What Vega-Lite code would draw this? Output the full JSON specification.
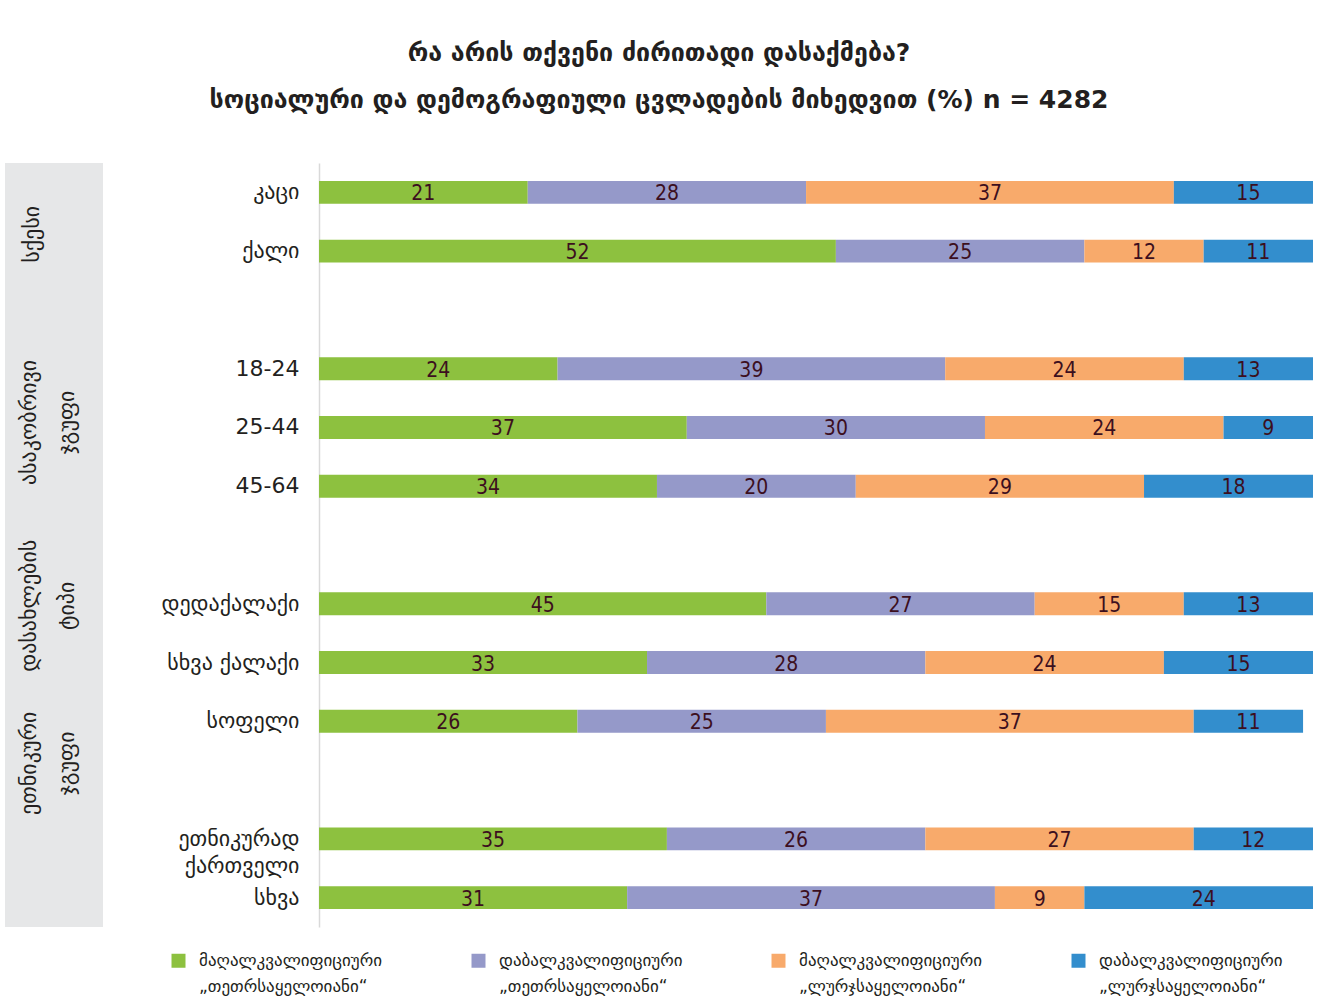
{
  "$schema": "https://vega.github.io/schema/vega-lite/v6.json",
  "padding": {"left": 5, "top": 41, "right": 5, "bottom": 5},
  "background": "white",
  "config": {"view": {"stroke": null}},
  "title": {
    "text": ["რა არის თქვენი ძირითადი დასაქმება?", "სოციალური და დემოგრაფიული ცვლადების მიხედვით (%) n = 4282"],
    "font": "DejaVu Sans",
    "fontSize": 25,
    "fontWeight": "bold",
    "color": "#231f20",
    "lineHeight": 47,
    "anchor": "middle",
    "offset": 50
  },
  "spacing": 16,
  "hconcat": [
    {
      "width": 98,
      "height": 764,
      "view": {"fill": "#e6e7e8", "stroke": null},
      "layer": [
        {
          "data": {"values": [{"group": "სქესი", "anchor": "კაცი"}]},
          "mark": {"type": "text", "angle": 270, "dx": -42, "dy": -22, "font": "DejaVu Sans", "fontSize": 22, "color": "#231f20", "align": "center", "baseline": "middle"},
          "encoding": {
            "y": {"field": "anchor", "type": "nominal", "scale": {"domain": ["კაცი", "ქალი", "g1", "18-24", "25-44", "45-64", "g2", "დედაქალაქი", "სხვა ქალაქი", "სოფელი", "g3", "ეთნიკურად ქართველი", "სხვა"], "paddingInner": 0.61, "paddingOuter": 0.305}, "axis": null},
            "text": {"field": "group"}
          }
        },
        {
          "data": {"values": [{"group": "ასაკობრივი ჯგუფი", "anchor": "25-44"}]},
          "mark": {"type": "text", "angle": 270, "dx": 5, "dy": -25, "lineBreak": " ", "lineHeight": 38, "font": "DejaVu Sans", "fontSize": 22, "color": "#231f20", "align": "center", "baseline": "middle"},
          "encoding": {
            "y": {"field": "anchor", "type": "nominal", "scale": {"domain": ["კაცი", "ქალი", "g1", "18-24", "25-44", "45-64", "g2", "დედაქალაქი", "სხვა ქალაქი", "სოფელი", "g3", "ეთნიკურად ქართველი", "სხვა"], "paddingInner": 0.61, "paddingOuter": 0.305}, "axis": null},
            "text": {"field": "group"}
          }
        },
        {
          "data": {"values": [{"group": "დასახლების ტიპი", "anchor": "დედაქალაქი"}]},
          "mark": {"type": "text", "angle": 270, "dx": -2, "dy": -25, "lineBreak": " ", "lineHeight": 38, "font": "DejaVu Sans", "fontSize": 22, "color": "#231f20", "align": "center", "baseline": "middle"},
          "encoding": {
            "y": {"field": "anchor", "type": "nominal", "scale": {"domain": ["კაცი", "ქალი", "g1", "18-24", "25-44", "45-64", "g2", "დედაქალაქი", "სხვა ქალაქი", "სოფელი", "g3", "ეთნიკურად ქართველი", "სხვა"], "paddingInner": 0.61, "paddingOuter": 0.305}, "axis": null},
            "text": {"field": "group"}
          }
        },
        {
          "data": {"values": [{"group": "ეთნიკური ჯგუფი", "anchor": "სოფელი"}]},
          "mark": {"type": "text", "angle": 270, "dx": -42, "dy": -25, "lineBreak": " ", "lineHeight": 38, "font": "DejaVu Sans", "fontSize": 22, "color": "#231f20", "align": "center", "baseline": "middle"},
          "encoding": {
            "y": {"field": "anchor", "type": "nominal", "scale": {"domain": ["კაცი", "ქალი", "g1", "18-24", "25-44", "45-64", "g2", "დედაქალაქი", "სხვა ქალაქი", "სოფელი", "g3", "ეთნიკურად ქართველი", "სხვა"], "paddingInner": 0.61, "paddingOuter": 0.305}, "axis": null},
            "text": {"field": "group"}
          }
        }
      ]
    },
    {
      "width": 994,
      "height": 764,
      "data": {"values": [
        {"group": "კაცი", "skill": "მაღალკვალიფიციური", "collar": "„თეთრსაყელოიანი“", "series": "მაღალკვალიფიციური „თეთრსაყელოიანი“", "value": 21},
        {"group": "კაცი", "skill": "დაბალკვალიფიციური", "collar": "„თეთრსაყელოიანი“", "series": "დაბალკვალიფიციური „თეთრსაყელოიანი“", "value": 28},
        {"group": "კაცი", "skill": "მაღალკვალიფიციური", "collar": "„ლურჯსაყელოიანი“", "series": "მაღალკვალიფიციური „ლურჯსაყელოიანი“", "value": 37},
        {"group": "კაცი", "skill": "დაბალკვალიფიციური", "collar": "„ლურჯსაყელოიანი“", "series": "დაბალკვალიფიციური „ლურჯსაყელოიანი“", "value": 15},
        {"group": "ქალი", "skill": "მაღალკვალიფიციური", "collar": "„თეთრსაყელოიანი“", "series": "მაღალკვალიფიციური „თეთრსაყელოიანი“", "value": 52},
        {"group": "ქალი", "skill": "დაბალკვალიფიციური", "collar": "„თეთრსაყელოიანი“", "series": "დაბალკვალიფიციური „თეთრსაყელოიანი“", "value": 25},
        {"group": "ქალი", "skill": "მაღალკვალიფიციური", "collar": "„ლურჯსაყელოიანი“", "series": "მაღალკვალიფიციური „ლურჯსაყელოიანი“", "value": 12},
        {"group": "ქალი", "skill": "დაბალკვალიფიციური", "collar": "„ლურჯსაყელოიანი“", "series": "დაბალკვალიფიციური „ლურჯსაყელოიანი“", "value": 11},
        {"group": "18-24", "skill": "მაღალკვალიფიციური", "collar": "„თეთრსაყელოიანი“", "series": "მაღალკვალიფიციური „თეთრსაყელოიანი“", "value": 24},
        {"group": "18-24", "skill": "დაბალკვალიფიციური", "collar": "„თეთრსაყელოიანი“", "series": "დაბალკვალიფიციური „თეთრსაყელოიანი“", "value": 39},
        {"group": "18-24", "skill": "მაღალკვალიფიციური", "collar": "„ლურჯსაყელოიანი“", "series": "მაღალკვალიფიციური „ლურჯსაყელოიანი“", "value": 24},
        {"group": "18-24", "skill": "დაბალკვალიფიციური", "collar": "„ლურჯსაყელოიანი“", "series": "დაბალკვალიფიციური „ლურჯსაყელოიანი“", "value": 13},
        {"group": "25-44", "skill": "მაღალკვალიფიციური", "collar": "„თეთრსაყელოიანი“", "series": "მაღალკვალიფიციური „თეთრსაყელოიანი“", "value": 37},
        {"group": "25-44", "skill": "დაბალკვალიფიციური", "collar": "„თეთრსაყელოიანი“", "series": "დაბალკვალიფიციური „თეთრსაყელოიანი“", "value": 30},
        {"group": "25-44", "skill": "მაღალკვალიფიციური", "collar": "„ლურჯსაყელოიანი“", "series": "მაღალკვალიფიციური „ლურჯსაყელოიანი“", "value": 24},
        {"group": "25-44", "skill": "დაბალკვალიფიციური", "collar": "„ლურჯსაყელოიანი“", "series": "დაბალკვალიფიციური „ლურჯსაყელოიანი“", "value": 9},
        {"group": "45-64", "skill": "მაღალკვალიფიციური", "collar": "„თეთრსაყელოიანი“", "series": "მაღალკვალიფიციური „თეთრსაყელოიანი“", "value": 34},
        {"group": "45-64", "skill": "დაბალკვალიფიციური", "collar": "„თეთრსაყელოიანი“", "series": "დაბალკვალიფიციური „თეთრსაყელოიანი“", "value": 20},
        {"group": "45-64", "skill": "მაღალკვალიფიციური", "collar": "„ლურჯსაყელოიანი“", "series": "მაღალკვალიფიციური „ლურჯსაყელოიანი“", "value": 29},
        {"group": "45-64", "skill": "დაბალკვალიფიციური", "collar": "„ლურჯსაყელოიანი“", "series": "დაბალკვალიფიციური „ლურჯსაყელოიანი“", "value": 18},
        {"group": "დედაქალაქი", "skill": "მაღალკვალიფიციური", "collar": "„თეთრსაყელოიანი“", "series": "მაღალკვალიფიციური „თეთრსაყელოიანი“", "value": 45},
        {"group": "დედაქალაქი", "skill": "დაბალკვალიფიციური", "collar": "„თეთრსაყელოიანი“", "series": "დაბალკვალიფიციური „თეთრსაყელოიანი“", "value": 27},
        {"group": "დედაქალაქი", "skill": "მაღალკვალიფიციური", "collar": "„ლურჯსაყელოიანი“", "series": "მაღალკვალიფიციური „ლურჯსაყელოიანი“", "value": 15},
        {"group": "დედაქალაქი", "skill": "დაბალკვალიფიციური", "collar": "„ლურჯსაყელოიანი“", "series": "დაბალკვალიფიციური „ლურჯსაყელოიანი“", "value": 13},
        {"group": "სხვა ქალაქი", "skill": "მაღალკვალიფიციური", "collar": "„თეთრსაყელოიანი“", "series": "მაღალკვალიფიციური „თეთრსაყელოიანი“", "value": 33},
        {"group": "სხვა ქალაქი", "skill": "დაბალკვალიფიციური", "collar": "„თეთრსაყელოიანი“", "series": "დაბალკვალიფიციური „თეთრსაყელოიანი“", "value": 28},
        {"group": "სხვა ქალაქი", "skill": "მაღალკვალიფიციური", "collar": "„ლურჯსაყელოიანი“", "series": "მაღალკვალიფიციური „ლურჯსაყელოიანი“", "value": 24},
        {"group": "სხვა ქალაქი", "skill": "დაბალკვალიფიციური", "collar": "„ლურჯსაყელოიანი“", "series": "დაბალკვალიფიციური „ლურჯსაყელოიანი“", "value": 15},
        {"group": "სოფელი", "skill": "მაღალკვალიფიციური", "collar": "„თეთრსაყელოიანი“", "series": "მაღალკვალიფიციური „თეთრსაყელოიანი“", "value": 26},
        {"group": "სოფელი", "skill": "დაბალკვალიფიციური", "collar": "„თეთრსაყელოიანი“", "series": "დაბალკვალიფიციური „თეთრსაყელოიანი“", "value": 25},
        {"group": "სოფელი", "skill": "მაღალკვალიფიციური", "collar": "„ლურჯსაყელოიანი“", "series": "მაღალკვალიფიციური „ლურჯსაყელოიანი“", "value": 37},
        {"group": "სოფელი", "skill": "დაბალკვალიფიციური", "collar": "„ლურჯსაყელოიანი“", "series": "დაბალკვალიფიციური „ლურჯსაყელოიანი“", "value": 11},
        {"group": "ეთნიკურად ქართველი", "skill": "მაღალკვალიფიციური", "collar": "„თეთრსაყელოიანი“", "series": "მაღალკვალიფიციური „თეთრსაყელოიანი“", "value": 35},
        {"group": "ეთნიკურად ქართველი", "skill": "დაბალკვალიფიციური", "collar": "„თეთრსაყელოიანი“", "series": "დაბალკვალიფიციური „თეთრსაყელოიანი“", "value": 26},
        {"group": "ეთნიკურად ქართველი", "skill": "მაღალკვალიფიციური", "collar": "„ლურჯსაყელოიანი“", "series": "მაღალკვალიფიციური „ლურჯსაყელოიანი“", "value": 27},
        {"group": "ეთნიკურად ქართველი", "skill": "დაბალკვალიფიციური", "collar": "„ლურჯსაყელოიანი“", "series": "დაბალკვალიფიციური „ლურჯსაყელოიანი“", "value": 12},
        {"group": "სხვა", "skill": "მაღალკვალიფიციური", "collar": "„თეთრსაყელოიანი“", "series": "მაღალკვალიფიციური „თეთრსაყელოიანი“", "value": 31},
        {"group": "სხვა", "skill": "დაბალკვალიფიციური", "collar": "„თეთრსაყელოიანი“", "series": "დაბალკვალიფიციური „თეთრსაყელოიანი“", "value": 37},
        {"group": "სხვა", "skill": "მაღალკვალიფიციური", "collar": "„ლურჯსაყელოიანი“", "series": "მაღალკვალიფიციური „ლურჯსაყელოიანი“", "value": 9},
        {"group": "სხვა", "skill": "დაბალკვალიფიციური", "collar": "„ლურჯსაყელოიანი“", "series": "დაბალკვალიფიციური „ლურჯსაყელოიანი“", "value": 24}
      ]},
      "encoding": {
        "y": {
          "field": "group", "type": "nominal",
          "scale": {"domain": ["კაცი", "ქალი", "g1", "18-24", "25-44", "45-64", "g2", "დედაქალაქი", "სხვა ქალაქი", "სოფელი", "g3", "ეთნიკურად ქართველი", "სხვა"], "paddingInner": 0.61, "paddingOuter": 0.305},
          "axis": {
            "title": null, "ticks": false, "domain": true, "domainColor": "#d9d9d9", "domainWidth": 1.5,
            "labelFont": "DejaVu Sans", "labelFontSize": 22, "labelColor": "#231f20", "labelPadding": 20,
            "labelLineHeight": 27, "labelLimit": 300, "minExtent": 200, "maxExtent": 200,
            "labelExpr": "datum.value == 'ეთნიკურად ქართველი' ? ['ეთნიკურად', 'ქართველი'] : (indexof(['g1','g2','g3'], datum.value) >= 0 ? '' : datum.value)"
          }
        }
      },
      "layer": [
        {
          "mark": {"type": "bar", "clip": true},
          "encoding": {
            "x": {"field": "value", "type": "quantitative", "stack": "zero", "scale": {"domain": [0, 100], "nice": false}, "axis": null},
            "order": {"field": "collar", "sort": "ascending"},
            "color": {
              "field": "series", "type": "nominal",
              "scale": {
                "domain": ["მაღალკვალიფიციური „თეთრსაყელოიანი“", "დაბალკვალიფიციური „თეთრსაყელოიანი“", "მაღალკვალიფიციური „ლურჯსაყელოიანი“", "დაბალკვალიფიციური „ლურჯსაყელოიანი“"],
                "range": ["#8dc13f", "#9599c9", "#f8aa6b", "#338ecd"]
              },
              "legend": {
                "title": null, "orient": "none", "legendX": 165, "legendY": 789, "direction": "horizontal", "columns": 4,
                "symbolType": "square", "symbolSize": 196, "symbolStrokeWidth": 0, "symbolOpacity": 1,
                "labelFont": "DejaVu Sans", "labelFontSize": 17, "labelColor": "#231f20", "labelOffset": 12, "labelLimit": 300,
                "gridAlign": "all", "columnPadding": 87,
                "labelExpr": "split(datum.label, ' ')",
                "encode": {"labels": {"update": {"lineHeight": {"value": 26}}}}
              }
            }
          }
        },
        {
          "mark": {"type": "text", "font": "DejaVu Sans Condensed, Liberation Sans, sans-serif", "fontSize": 21, "baseline": "middle", "dy": 2, "color": "#3c0f1e"},
          "encoding": {
            "x": {"field": "value", "type": "quantitative", "stack": "zero", "bandPosition": 0.5},
            "order": {"field": "collar", "sort": "ascending"},
            "text": {"field": "value", "type": "quantitative"},
            "detail": {"field": "series", "type": "nominal"}
          }
        }
      ]
    }
  ]
}
